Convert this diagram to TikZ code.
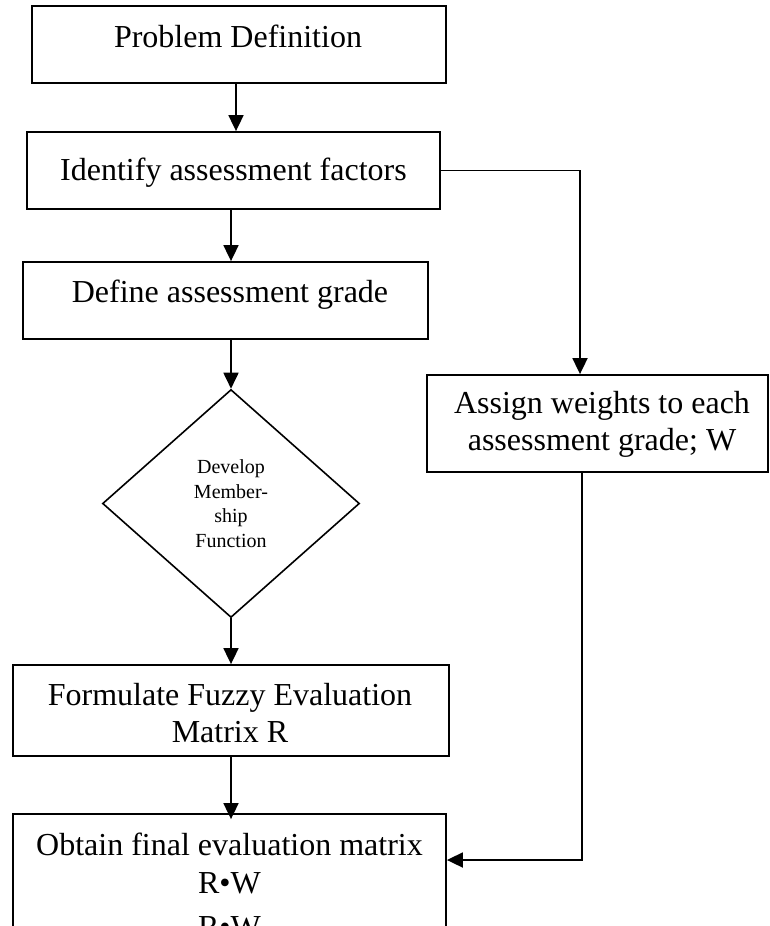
\documentclass[tikz,border=0pt]{standalone}
\usepackage{fontspec}
\setmainfont{Liberation Serif}
\usetikzlibrary{arrows.meta,shapes.geometric}
\begin{document}
\begin{tikzpicture}[x=1pt,y=-1pt,
  boxshape/.style={draw,line width=1.8pt,rectangle,inner sep=0pt},
  txt/.style={anchor=base,inner sep=0pt,font=\fontsize{32}{37}\selectfont,align=center},
  arr/.style={line width=1.8pt,-{Triangle[length=16pt,width=15pt]}}]
\useasboundingbox (0,0) rectangle (769,926);
\clip (0,0) rectangle (769,926);
\fill[white] (0,0) rectangle (769,926);
% boxes
\node[boxshape,minimum width=414pt,minimum height=77pt] (box1) at (239,44.5) {};
\node[boxshape,minimum width=413pt,minimum height=77pt] (box2) at (233.5,170.5) {};
\node[boxshape,minimum width=405pt,minimum height=77pt] (box3) at (225.5,300.5) {};
\node[draw,line width=1.6pt,diamond,inner sep=0pt,minimum width=257pt,minimum height=228pt,
      align=center,font=\fontsize{20}{24.5}\selectfont] (dia) at (231,503.5)
      {Develop\\Member-\\ship\\Function};
\node[boxshape,minimum width=436pt,minimum height=91pt] (box4) at (231,710.5) {};
\node[boxshape,minimum width=433pt,minimum height=160pt] (box5) at (229.5,894) {};
\node[boxshape,minimum width=341pt,minimum height=97pt] (box6) at (597.5,423.5) {};
% texts
\node[txt] (t1) at (238,47) {Problem Definition};
\node[txt] (t2) at (233.5,180) {Identify assessment factors};
\node[txt] (t3) at (230,302) {Define assessment grade};
\node[txt] (t4a) at (230,705) {Formulate Fuzzy Evaluation};
\node[txt] (t4b) at (230,742) {Matrix R};
\node[txt] (t5a) at (229.5,855) {Obtain final evaluation matrix};
\node[txt] (t5b) at (229.5,893) {R•W};
\node[txt] (t5c) at (229.5,937) {R•W};
\node[txt] (t6a) at (602,413) {Assign weights to each};
\node[txt] (t6b) at (602,450) {assessment grade; W};
% connector helpers
\coordinate (xa) at (236,0);
\coordinate (xb) at (231,0);
\coordinate (xr) at (580,0);
\coordinate (cr) at (582,860);
% connectors
\draw[arr] (box1.south -| xa) -- (box2.north -| xa);
\draw[arr] (box2.south -| xb) -- (box3.north -| xb);
\draw[arr] (box3.south -| xb) -- (dia.north);
\draw[arr] (dia.south) -- (box4.north -| xb);
\draw[arr] (box4.south -| xb) -- ([yshift=-6pt]box5.north -| xb);
\draw[arr] (box2.east) -| (box6.north -| xr);
\draw[arr] (box6.south -| cr) |- (box5.east |- cr);
\end{tikzpicture}
\end{document}
